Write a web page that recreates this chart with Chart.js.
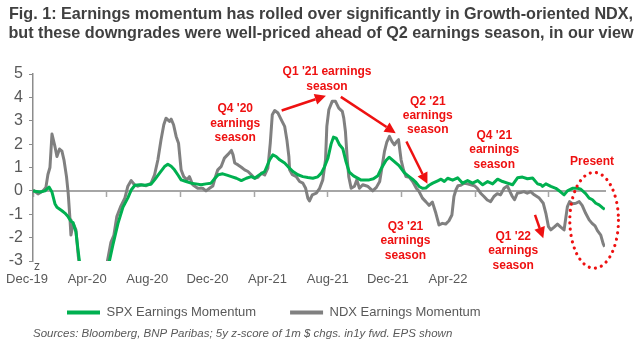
<!DOCTYPE html>
<html>
<head>
<meta charset="utf-8">
<script src="https://cdn.jsdelivr.net/npm/chart.js@4.4.1/dist/chart.umd.min.js"></script>
<style>
  html,body{margin:0;padding:0;background:#fff;}
</style>
</head>
<body>
<canvas id="chart" width="642" height="344"></canvas>
<script>
/* Fig. 1 — SPX vs NDX earnings momentum (5y z-score), Dec-19 .. Jul-22
   x values = months since start of Dec-19 */

const ndxT=[0,0.27,0.54,0.70,0.81,0.92,1.03,1.19,1.30,1.44,1.57,1.68,1.82,1.91,2.01,2.06,2.18,2.33,2.46,2.55,
  2.87,3.31,3.69,3.90,4.04,4.23,4.39,4.55,4.77,4.99,5.15,5.33,5.51,5.69,5.87,6.14,6.41,6.60,6.78,6.95,
  7.10,7.22,7.41,7.50,7.63,7.77,7.90,8.04,8.18,8.36,8.49,8.67,8.94,9.21,9.39,9.58,9.76,9.88,10.03,10.22,
  10.39,10.57,10.77,10.86,10.95,11.13,11.31,11.49,11.67,11.85,12.03,12.21,12.40,12.58,12.75,12.88,12.99,13.12,13.30,13.48,
  13.66,13.78,13.89,13.93,14.08,14.29,14.47,14.65,14.80,14.92,15.01,15.16,15.38,15.56,15.73,15.88,15.95,16.06,16.24,16.42,
  16.60,16.79,16.87,16.96,17.06,17.14,17.27,17.45,17.58,17.72,17.90,18.16,18.44,18.64,18.82,18.95,19.08,19.20,19.35,19.49,
  19.62,19.74,19.84,19.98,20.11,20.25,20.43,20.61,20.81,20.96,21.14,21.32,21.50,21.68,21.87,22.04,22.22,22.40,22.58,22.74,
  22.85,22.96,23.07,23.22,23.40,23.58,23.77,23.96,24.12,24.30,24.48,24.66,24.84,25.02,25.20,25.38,25.57,25.75,25.89,26.02,
  26.14,26.29,26.47,26.65,26.83,27.01,27.21,27.48,27.70,27.84,27.98,28.11,28.29,28.47,28.65,28.83,29.01,29.13,29.28,29.47,
  29.65,29.81,30.00,30.19,30.35,30.51,30.64,30.82,30.95,31.03];
const ndxV=[0.04,-0.13,0.00,0.15,0.70,1.00,2.43,1.90,1.47,1.79,1.70,1.33,0.60,-0.10,-1.24,-1.89,-1.39,-1.67,-2.80,-3.40,
  -4.6,-5.3,-4.6,-3.7,-3.00,-2.20,-1.90,-1.10,-0.65,-0.30,0.20,0.44,0.26,0.20,0.26,0.22,0.33,0.69,1.33,2.19,
  2.83,3.11,2.97,3.07,2.83,2.33,2.04,0.90,0.61,0.47,0.61,0.26,0.11,0.11,0.00,0.11,0.21,0.54,0.90,1.05,
  1.40,1.55,1.73,1.54,1.19,1.11,1.01,0.90,0.83,0.69,0.54,0.58,0.76,0.68,0.97,2.04,3.26,3.44,3.33,3.04,
  2.76,2.19,1.47,0.90,0.69,0.61,0.40,0.33,0.11,-0.31,-0.43,-0.17,-0.10,0.11,0.47,1.33,2.76,3.47,3.83,3.83,
  3.54,3.40,3.11,2.54,1.33,0.61,0.11,0.20,0.47,0.11,0.26,0.20,0.00,0.15,0.40,1.04,1.69,2.07,2.33,2.11,
  1.97,2.11,2.19,1.33,0.90,0.61,0.58,0.40,0.11,-0.03,-0.31,-0.46,-0.62,-0.48,-0.96,-1.46,-1.39,-1.42,-1.28,-1.03,
  -0.24,0.05,0.22,0.24,0.33,0.30,0.26,0.22,0.11,-0.10,-0.24,-0.39,-0.46,-0.24,-0.12,-0.17,0.11,0.21,-0.03,-0.24,
  -0.38,-0.10,-0.07,-0.03,-0.10,-0.03,-0.17,-0.31,-0.53,-0.96,-1.53,-1.67,-1.55,-1.42,-1.55,-1.67,-0.67,-0.46,-0.55,-0.53,
  -0.46,-0.62,-0.96,-1.24,-1.39,-1.50,-1.70,-1.89,-2.26,-2.39];

const spxT=[0,0.38,0.65,0.87,1.03,1.19,1.30,1.57,1.73,1.90,2.06,2.17,2.33,2.44,2.55,2.87,3.31,3.69,3.96,4.12,
  4.34,4.61,4.88,5.15,5.34,5.53,5.80,6.07,6.40,6.60,6.87,7.14,7.32,7.50,7.68,7.86,8.04,8.31,8.58,8.85,
  9.12,9.39,9.66,9.88,10.06,10.30,10.57,10.77,11.04,11.31,11.58,11.85,12.03,12.30,12.58,12.85,13.02,13.20,13.39,13.66,
  13.84,14.11,14.38,14.65,14.92,15.19,15.46,15.65,15.83,16.01,16.18,16.31,16.46,16.64,16.82,16.99,17.17,17.40,17.79,18.25,
  18.48,18.72,18.92,19.16,19.33,19.57,19.87,20.15,20.42,20.60,20.79,20.96,21.14,21.32,21.50,21.70,21.97,22.15,22.33,22.51,
  22.78,23.05,23.32,23.59,23.86,24.14,24.41,24.68,24.95,25.22,25.49,25.76,26.03,26.30,26.57,26.84,27.12,27.39,27.57,27.66,
  27.84,28.11,28.38,28.65,28.83,29.01,29.28,29.56,29.74,30.00,30.19,30.37,30.55,30.73,30.91,31.04];
const spxV=[0.00,-0.05,0.00,0.16,-0.05,-0.55,-0.70,-0.85,-0.95,-1.10,-1.30,-1.35,-1.75,-2.50,-3.20,-4.4,-5.2,-4.6,-3.6,-3.10,
  -2.30,-1.40,-0.70,-0.30,0.05,0.24,0.26,0.24,0.28,0.47,0.76,1.04,1.14,1.05,0.90,0.69,0.47,0.40,0.33,0.30,
  0.26,0.30,0.33,0.54,0.69,0.73,0.66,0.61,0.54,0.44,0.54,0.61,0.54,0.69,0.83,1.33,1.54,1.47,1.33,1.19,
  1.04,0.83,0.69,0.61,0.57,0.54,0.60,0.76,1.04,1.40,2.00,2.30,2.26,1.97,1.80,1.25,0.80,0.64,0.47,0.47,
  0.52,0.65,0.98,1.30,1.44,1.28,1.08,0.78,0.61,0.50,0.36,0.19,0.11,0.12,0.24,0.33,0.43,0.50,0.40,0.54,
  0.46,0.56,0.33,0.44,0.33,0.44,0.26,0.40,0.30,0.50,0.40,0.33,0.26,0.56,0.59,0.52,0.55,0.30,0.26,0.19,
  0.30,0.19,0.11,-0.05,-0.17,0.00,0.11,0.11,0.07,-0.12,-0.31,-0.38,-0.53,-0.60,-0.72,-0.79];

const xLabels=['Dec-19','Apr-20','Aug-20','Dec-20','Apr-21','Aug-21','Dec-21','Apr-22'];
const yMin=-3, yMax=5;

// red call-outs, anchored in data units (t = months, v = z-score)
const notes=[
  {lines:["Q4 '20","earnings","season"],t:10.98,v:3.50},
  {lines:["Q1 '21 earnings","season"],t:15.96,v:5.09},
  {lines:["Q2 '21","earnings","season"],t:21.43,v:3.83},
  {lines:["Q3 '21","earnings","season"],t:20.22,v:-1.53},
  {lines:["Q4 '21","earnings","season"],t:25.04,v:2.36},
  {lines:["Q1 '22","earnings","season"],t:26.07,v:-1.96},
  {lines:["Present"],t:30.35,v:1.26}
];
const arrows=[
  {from:[13.50,3.44],to:[15.90,4.07]},
  {from:[16.71,4.02],to:[19.69,2.47]},
  {from:[20.27,2.11],to:[21.41,0.30]},
  {from:[27.25,-1.03],to:[27.70,-2.03]}
];
const present={t:30.46,v:-1.26,rt:1.32,rv:2.05};

const FONT="'Liberation Sans', Arial, sans-serif";
const TXT='#595959', RED='#ee1111', GREEN='#00b050', GREY='#808080';

const calloutPlugin={
  id:'callouts',
  afterDatasetsDraw(c){
    const {ctx,scales:{x,y}}=c;
    ctx.save();
    ctx.fillStyle=RED; ctx.strokeStyle=RED;
    ctx.font='bold 12px '+FONT; ctx.textAlign='center'; ctx.textBaseline='middle';
    notes.forEach(n=>n.lines.forEach((s,i)=>ctx.fillText(s,x.getPixelForValue(n.t),y.getPixelForValue(n.v)+i*14.3)));
    ctx.lineWidth=2.5; ctx.lineCap='butt';
    arrows.forEach(a=>{
      const x1=x.getPixelForValue(a.from[0]), y1=y.getPixelForValue(a.from[1]);
      const x2=x.getPixelForValue(a.to[0]), y2=y.getPixelForValue(a.to[1]);
      const ang=Math.atan2(y2-y1,x2-x1), hl=11, hw=5.5;
      const bx=x2-hl*Math.cos(ang), by=y2-hl*Math.sin(ang);
      ctx.beginPath(); ctx.moveTo(x1,y1); ctx.lineTo(bx,by); ctx.stroke();
      ctx.beginPath(); ctx.moveTo(x2,y2);
      ctx.lineTo(bx+hw*Math.sin(ang),by-hw*Math.cos(ang));
      ctx.lineTo(bx-hw*Math.sin(ang),by+hw*Math.cos(ang));
      ctx.closePath(); ctx.fill();
    });
    // dotted ring round the latest readings
    const cx=x.getPixelForValue(present.t), cy=y.getPixelForValue(present.v);
    const rx=x.getPixelForValue(present.t+present.rt)-cx, ry=y.getPixelForValue(present.v-present.rv)-cy;
    ctx.lineWidth=3.2; ctx.lineCap='round'; ctx.setLineDash([0.01,6.3]);
    ctx.beginPath(); ctx.ellipse(cx,cy,rx,ry,0,0,Math.PI*2); ctx.stroke();
    ctx.setLineDash([]);
    // stray axis mark under the y axis
    ctx.fillStyle=TXT; ctx.font='12px '+FONT; ctx.textAlign='left';
    ctx.fillText('z',x.getPixelForValue(0)+1,y.getPixelForValue(yMin)+6);
    ctx.restore();
  }
};

const pts=(ts,vs)=>ts.map((t,i)=>({x:t,y:vs[i]}));

new Chart(document.getElementById('chart'),{
  type:'line',
  data:{datasets:[
    {label:'SPX Earnings Momentum',data:pts(spxT,spxV),borderColor:GREEN,backgroundColor:GREEN,borderWidth:3,pointRadius:0,borderJoinStyle:'round'},
    {label:'NDX Earnings Momentum',data:pts(ndxT,ndxV),borderColor:GREY,backgroundColor:GREY,borderWidth:3,pointRadius:0,borderJoinStyle:'round'}
  ]},
  options:{
    responsive:false,animation:false,
    layout:{padding:{left:0,right:0,top:0,bottom:3}},
    scales:{
      x:{type:'linear',min:0,max:31.05,position:{y:0},
        ticks:{display:false,stepSize:4,includeBounds:false},
        grid:{drawOnChartArea:false,tickLength:5,tickColor:'#a6a6a6',tickWidth:1.5},
        border:{color:'#a6a6a6',width:2}},
      // date labels sit on their own axis along the bottom edge
      xl:{type:'linear',position:{y:yMin},min:0.0998,max:9.611,
        afterBuildTicks:s=>{s.ticks=xLabels.map((_,i)=>({value:i}));},
        ticks:{callback:v=>xLabels[v],color:TXT,font:{size:13,family:FONT},padding:11,autoSkip:false,maxRotation:0},
        grid:{display:false,drawTicks:false},border:{display:false},
        afterFit:s=>{s.paddingLeft=0;s.paddingRight=37;}},
      y:{min:yMin,max:yMax,
        ticks:{stepSize:1,color:TXT,font:{size:16,family:FONT},padding:6},
        grid:{drawOnChartArea:false,tickLength:4,tickColor:'#8c8c8c'},
        border:{color:'#8c8c8c',width:1.5},
        afterFit:s=>{s.width=33;}}
    },
    plugins:{
      title:{display:true,color:'#404040',
        text:['Fig. 1: Earnings momentum has rolled over significantly in Growth-oriented NDX,',
              'but these downgrades were well-priced ahead of Q2 earnings season, in our view'],
        font:{size:16.2,weight:'bold',family:FONT,lineHeight:'19px'},padding:{top:5.5,bottom:30.5}},
      legend:{position:'bottom',align:'start',fullSize:false,maxHeight:66,
        title:{display:true,text:'',padding:0,font:{size:11,lineHeight:'11px'}},
        labels:{boxWidth:33,boxHeight:4,padding:34,color:TXT,font:{size:13,family:FONT},
          generateLabels:c=>Chart.defaults.plugins.legend.labels.generateLabels(c).map(l=>({...l,lineWidth:0}))}},
      subtitle:{display:true,position:'bottom',align:'start',fullSize:false,color:TXT,
        text:'Sources: Bloomberg, BNP Paribas; 5y z-score of 1m $ chgs. in1y fwd. EPS shown',
        font:{size:11.5,style:'italic',family:FONT,lineHeight:'14px'},padding:0},
      tooltip:{enabled:false}
    }
  },
  plugins:[calloutPlugin]
});
</script>
</body>
</html>
